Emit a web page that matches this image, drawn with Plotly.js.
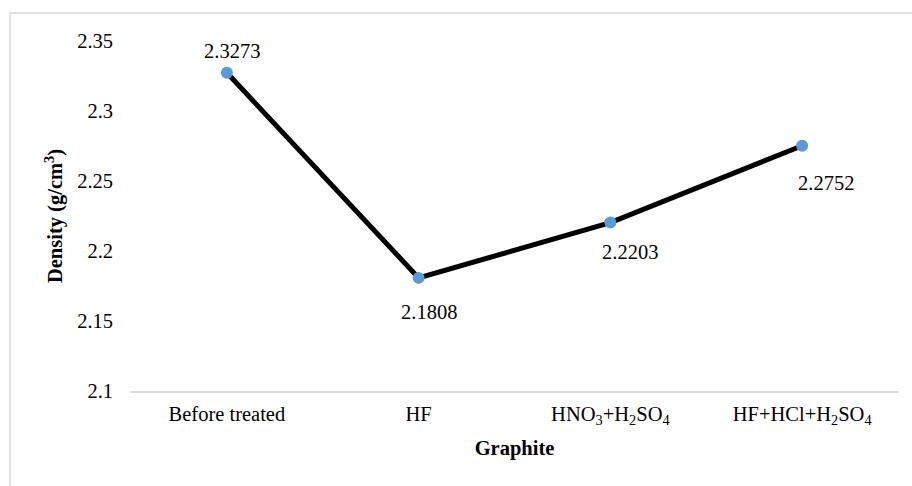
<!DOCTYPE html>
<html>
<head>
<meta charset="utf-8">
<script src="https://cdn.plot.ly/plotly-3.0.1.min.js"></script>
<style>
html,body{margin:0;padding:0;background:#fff;overflow:hidden;}
#chart{width:912px;height:486px;}
</style>
</head>
<body>
<div id="chart"></div>
<script>
const categories = ["Before treated", "HF", "HNO<sub>3</sub>+H<sub>2</sub>SO<sub>4</sub>", "HF+HCl+H<sub>2</sub>SO<sub>4</sub>"];
const density = [2.3273, 2.1808, 2.2203, 2.2752];
const labelText = ["2.3273", "2.1808", "2.2203", "2.2752"];
const yTickVals = [2.1, 2.15, 2.2, 2.25, 2.3, 2.35];
const yTickText = ["2.1", "2.15", "2.2", "2.25", "2.3", "2.35"];

const labelXShift = [5, 10, 20, 24];
const labelYShift = [22, -34, -29, -37];

const FONT = "'Liberation Serif', 'Times New Roman', serif";

const trace = {
  x: categories,
  y: density,
  type: 'scatter',
  mode: 'lines+markers',
  line: {color: '#000000', width: 5},
  marker: {color: '#5b9bd5', size: 12},
  hoverinfo: 'skip',
  cliponaxis: false
};

const annotations = density.map((v, i) => ({
  x: categories[i], y: v, xref: 'x', yref: 'y',
  text: labelText[i], showarrow: false,
  xshift: labelXShift[i], yshift: labelYShift[i],
  font: {family: FONT, size: 20.5, color: '#000'}
}));

const layout = {
  width: 912, height: 486,
  margin: {l: 131, r: 14, t: 41, b: 95},
  paper_bgcolor: '#fff', plot_bgcolor: '#fff',
  showlegend: false,
  font: {family: FONT, size: 20.5, color: '#000'},
  xaxis: {
    type: 'category',
    range: [-0.5, 3.5],
    showline: true, linecolor: '#d9d9d9', linewidth: 2,
    showgrid: false, zeroline: false, ticks: '',
    ticklabelstandoff: 3,
    tickfont: {family: FONT, size: 20.5, color: '#000'},
    title: {text: '<b>Graphite</b>', font: {family: FONT, size: 20.5, color: '#000'}, standoff: 14}
  },
  yaxis: {
    range: [2.1, 2.35],
    tickvals: yTickVals, ticktext: yTickText,
    showline: false, showgrid: false, zeroline: false, ticks: '',
    ticklabelstandoff: 17,
    tickfont: {family: FONT, size: 20.5, color: '#000'},
    title: {text: '<b>Density (g/cm<sup>3</sup>)</b>', font: {family: FONT, size: 20.5, color: '#000'}, standoff: 8}
  },
  annotations: annotations,
  shapes: [{
    type: 'rect', xref: 'paper', yref: 'paper',
    x0: (10 - 131) / 767, x1: 1.2,
    y0: -0.6, y1: (391 - 13) / 350,
    line: {color: '#d9d9d9', width: 1.5}, fillcolor: 'rgba(0,0,0,0)', layer: 'below'
  }]
};

Plotly.newPlot('chart', [trace], layout, {displayModeBar: false, staticPlot: true});
</script>
</body>
</html>
